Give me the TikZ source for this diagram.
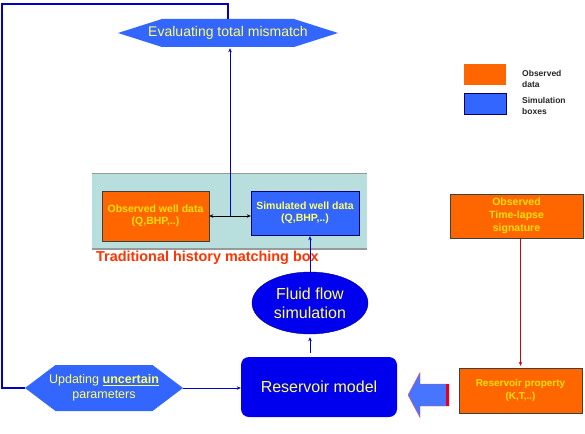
\documentclass[tikz,border=0pt]{standalone}
\usepackage{fontspec}
\setmainfont{Liberation Sans}
\usetikzlibrary{arrows.meta,shapes.geometric,calc,backgrounds}
\definecolor{simblue}{HTML}{3366FF}
\definecolor{deepblue}{HTML}{0000EE}
\definecolor{obsorange}{HTML}{FF6600}
\definecolor{txtyellow}{HTML}{FFFF66}
\definecolor{txtgold}{HTML}{FFE000}
\definecolor{histteal}{HTML}{B8DEDE}
\definecolor{linkblue}{HTML}{0000CC}
\definecolor{labelred}{HTML}{FF3300}

\begin{document}
\begin{tikzpicture}[
        x=1pt, y=-1pt,
        obsbox/.style={rectangle, draw=black!75, fill=obsorange, text=txtgold, align=center, inner sep=0pt, font=\fontsize{10.5}{12.5}\selectfont\bfseries},
        simbox/.style={rectangle, draw=blue!40!black, fill=simblue, text=txtyellow, align=center, inner sep=0pt, font=\fontsize{10.5}{12.5}\selectfont\bfseries},
        hexnode/.style={inner sep=0pt, text=txtyellow, align=center},
        bigblue/.style={fill=deepblue, text=txtyellow, align=center, inner sep=0pt, font=\fontsize{16}{19}\selectfont},
        legendbox/.style={rectangle, minimum width=42pt, minimum height=21pt, inner sep=0pt},
        legendtext/.style={anchor=west, align=left, inner sep=0pt, text=black!85, font=\fontsize{8.5}{11}\selectfont\bfseries},
        arrow/.style={-{Stealth[length=4pt,width=3.5pt]}, linkblue, semithick},
    ]
        \useasboundingbox (0,0) rectangle (585,433);

        % traditional history matching box
        \node[rectangle, fill=histteal, minimum width=275pt, minimum height=75pt, inner sep=0pt] (histbox) at (229.5,211.5) {};
        \draw[gray!80, line width=1pt] (histbox.north west) -- (histbox.north east);
        \draw[gray!80, line width=1.5pt] (histbox.south west) -- (histbox.south east);
        \node[anchor=west, inner sep=0pt, text=labelred, font=\fontsize{14.4}{16}\selectfont\bfseries] (histlabel) at (96,258) {Traditional history matching box};

        \node[obsbox, minimum width=107pt, minimum height=50pt] (obswell) at (155.5,216) {Observed well data\\(Q,BHP,..)};
        \node[simbox, minimum width=108pt, minimum height=44pt] (simwell) at (305,213) {Simulated well data\\(Q,BHP,..)};

        \node[hexnode, minimum width=132pt, minimum height=28pt, font=\fontsize{14}{16}\selectfont] (eval) at (228,33) {Evaluating total mismatch};
        \node[hexnode, font=\fontsize{12.5}{15}\selectfont] (upd) at (104,388) {Updating \underline{\textbf{uncertain}}\\parameters};

        \node[bigblue, ellipse, draw=blue!50!black, minimum width=116pt, minimum height=62pt] (fluid) at (310,303) {Fluid flow\\simulation};
        \node[bigblue, rectangle, rounded corners=8pt, minimum width=156pt, minimum height=60pt] (resmodel) at (319,387) {Reservoir model};

        \node[obsbox, minimum width=133pt, minimum height=44pt, font=\fontsize{10.5}{13}\selectfont\bfseries] (timelapse) at (516.5,216) {Observed\\Time-lapse\\signature};
        \node[obsbox, minimum width=123pt, minimum height=45pt, font=\fontsize{10}{12.5}\selectfont\bfseries] (resprop) at (520.5,390.5) {Reservoir property\\(K,T,..)};

        % legend
        \node[legendbox, fill=obsorange] (legobs) at (485,74.5) {};
        \node[legendbox, fill=simblue, draw=blue!40!black] (legsim) at (485,104) {};
        \node[legendtext] (legobstext) at (522,78.5) {Observed\\data};
        \node[legendtext] (legsimtext) at (522,105.5) {Simulation\\boxes};

        \begin{scope}[on background layer]
            \fill[simblue] ($(eval)+(-66,-14)$) -- ($(eval)+(66,-14)$) -- ($(eval)+(110,0)$) -- ($(eval)+(66,14)$) -- ($(eval)+(-66,14)$) -- ($(eval)+(-110,0)$) -- cycle;
            \fill[simblue] ($(upd)+(-48.5,-23)$) -- ($(upd)+(48.5,-23)$) -- ($(upd)+(79,0)$) -- ($(upd)+(48.5,23)$) -- ($(upd)+(-48.5,23)$) -- ($(upd)+(-79,0)$) -- cycle;
        \end{scope}

        \coordinate (updL) at ($(upd)+(-79,0)$);
        \coordinate (updR) at ($(upd)+(79,0)$);
        \coordinate (mid) at ($(obswell.east)!0.5!(obswell.east -| simwell.west)$);
        \coordinate (arrtip) at (408,395);
        \coordinate (arrtail) at (449,395);

        \draw[linkblue, line width=1.5pt] (updL) -| (2,4) -| (eval.north);
        \draw[arrow] (updR) -- (updR -| resmodel.west);
        \draw[arrow, shorten <=4pt, shorten >=3pt] (fluid.south |- resmodel.north) -- (fluid.south);
        \draw[arrow, shorten >=1pt] (fluid.north) -- (fluid.north |- simwell.south);
        \draw[{Stealth[length=4pt,width=3.5pt]}-{Stealth[length=4pt,width=3.5pt]}, black, semithick] (obswell.east) -- (obswell.east -| simwell.west);
        \draw[arrow, shorten >=1pt] (mid) -- (mid |- eval.south);
        \draw[-{Stealth[length=4pt,width=3.5pt]}, red!85!black, semithick, shorten >=2pt] (resprop.north |- timelapse.south) -- (resprop.north);

        \filldraw[fill=simblue!90!white, draw=red!60!pink, thin] (arrtip) -- ++(12,-22.5) -- ++(0,11.5) -- (arrtail |- 0,384) -- (arrtail |- 0,406) -- ++(-29,0) -- ++(0,11.5) -- cycle;
        \draw[red!60!purple, line width=2.5pt] ($(arrtail)+(-1.5,-11)$) -- ($(arrtail)+(-1.5,11)$);

    \end{tikzpicture}
\end{document}
